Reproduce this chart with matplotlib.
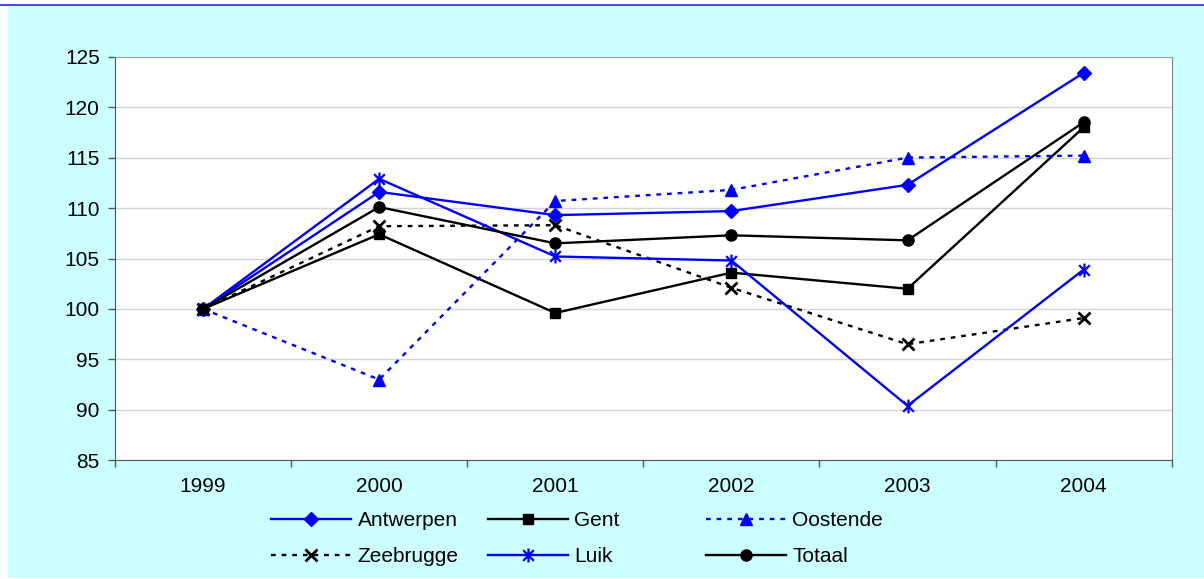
import numpy as np
import matplotlib
matplotlib.use("Agg")
import matplotlib.pyplot as plt
from matplotlib.patches import Rectangle
from matplotlib.lines import Line2D
from matplotlib.path import Path

plt.rcParams['font.family'] = ['Liberation Sans', 'DejaVu Sans']

years = ["1999", "2000", "2001", "2002", "2003", "2004"]
antwerpen = [100, 111.6, 109.3, 109.7, 112.3, 123.4]
gent = [100, 107.4, 99.6, 103.6, 102.0, 118.0]
oostende = [100, 93.0, 110.7, 111.8, 115.0, 115.2]
zeebrugge = [100, 108.2, 108.3, 102.1, 96.5, 99.1]
luik = [100, 112.9, 105.2, 104.8, 90.4, 103.9]
totaal = [100, 110.1, 106.5, 107.3, 106.8, 118.5]

# star marker: an X with a vertical bar through it
star = Path([(-1, -1), (1, 1), (-1, 1), (1, -1), (0, -1.3), (0, 1.3)],
            [Path.MOVETO, Path.LINETO, Path.MOVETO, Path.LINETO, Path.MOVETO, Path.LINETO])

W, H = 1204, 579
fig = plt.figure(figsize=(W / 100, H / 100), dpi=100, facecolor="white")
fig.patches.append(Rectangle((8 / W, 1 / H), (W - 8) / W, (578 - 6) / H,
                             transform=fig.transFigure, facecolor="#CCFFFF",
                             edgecolor="none", zorder=-10))
fig.lines.append(Line2D([0, 1], [1 - 4.5 / H] * 2, transform=fig.transFigure,
                        color="#3333FF", lw=1.3, zorder=-5))

ax = fig.add_axes([115 / W, 1 - 460.3 / H, (1171.7 - 115) / W, (460.3 - 56.7) / H])
ax.set_facecolor("white")
x = np.arange(len(years))

lw = 1.7
h1, = ax.plot(x, antwerpen, color="#0000FF", lw=lw, marker="D", ms=7.5, label="Antwerpen")
h2, = ax.plot(x, gent, color="black", lw=lw, marker="s", ms=7, label="Gent")
h3, = ax.plot(x, oostende, color="#0000FF", lw=lw, ls=(0, (2, 2.5)), marker="^", ms=9, label="Oostende")
h4, = ax.plot(x, zeebrugge, color="black", lw=lw, ls=(0, (2, 2.5)), marker="x", ms=9,
              mew=2, label="Zeebrugge")
h5, = ax.plot(x, luik, color="#0000FF", lw=lw, marker=star, ms=10, mew=1.6, label="Luik")
h6, = ax.plot(x, totaal, color="black", lw=lw, marker="o", ms=8, label="Totaal")

ax.set_xlim(-0.5, 5.5)
ax.set_ylim(85, 125)
ax.set_yticks(np.arange(85, 126, 5))
ax.set_xticks(x)
ax.set_xticklabels(years)
ax.set_xticks(np.arange(-0.5, 5.6, 1), minor=True)
ax.tick_params(axis="x", which="major", length=0, pad=12, labelsize=15)
ax.tick_params(axis="x", which="minor", length=5, width=1, color="#555555")
ax.tick_params(axis="y", length=5, width=1, color="#555555", pad=6, labelsize=15)
ax.grid(axis="y", color="#D4D4D4", lw=1)
ax.set_axisbelow(True)
for s in ["left", "bottom"]:
    ax.spines[s].set_color("#555555")
ax.spines["top"].set_color("#A0A0A0")
ax.spines["right"].set_color("#808080")

cols = [(271, [h1, h4]), (488, [h2, h5]), (706, [h3, h6])]
for xpix, hs in cols:
    fig.legend(handles=hs, loc="upper left", bbox_to_anchor=(xpix / W, 1 - 511 / H),
               frameon=False, borderpad=0, borderaxespad=0, handlelength=3.85,
               handletextpad=0.3, labelspacing=0.83, fontsize=15)

fig.savefig("out.png", dpi=100, facecolor=fig.get_facecolor())
